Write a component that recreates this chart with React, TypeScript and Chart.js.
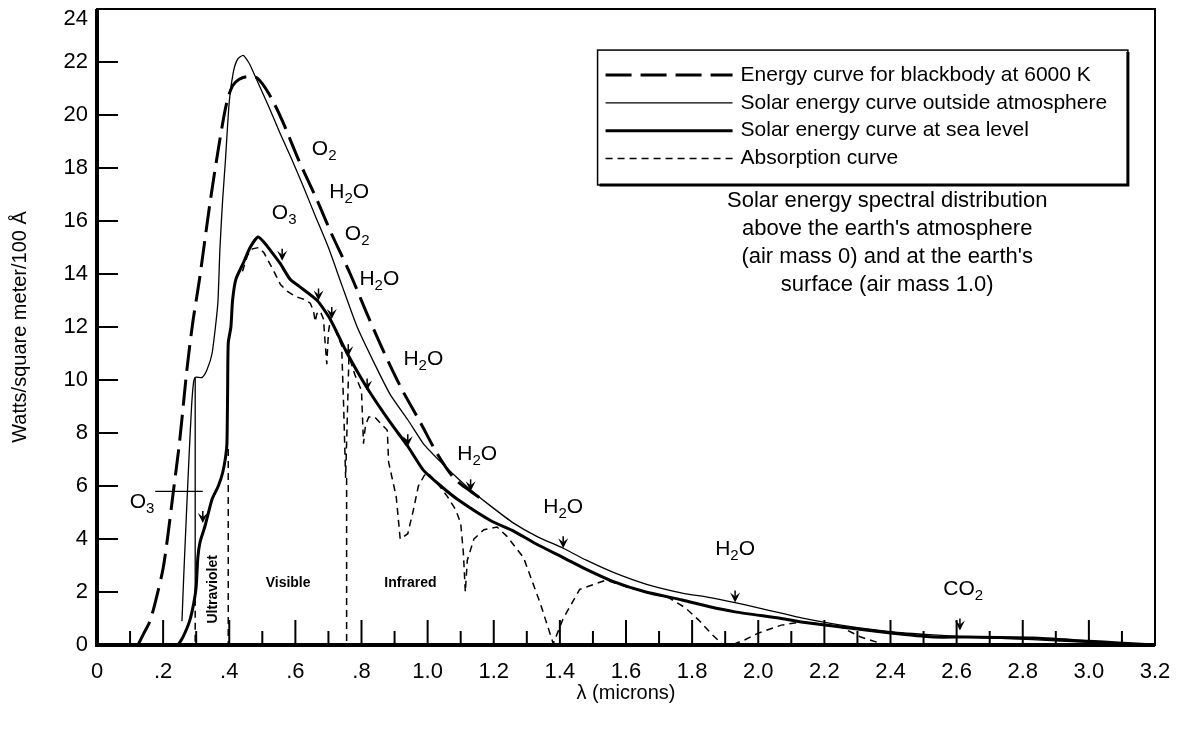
import React, { useEffect, useRef } from 'react';
import { Chart, registerables } from 'chart.js';

Chart.register(...registerables);

type Pt = [number, number];

const FONT = '"Liberation Sans", Arial, Helvetica, sans-serif';

// ---- axis ticks ----
const xTickValues = [0, 0.2, 0.4, 0.6, 0.8, 1.0, 1.2, 1.4, 1.6, 1.8, 2.0, 2.2, 2.4, 2.6, 2.8, 3.0, 3.2];
const xTickLabels = ['0', '.2', '.4', '.6', '.8', '1.0', '1.2', '1.4', '1.6', '1.8', '2.0', '2.2', '2.4', '2.6', '2.8', '3.0', '3.2'];
const yTickValues = [0, 2, 4, 6, 8, 10, 12, 14, 16, 18, 20, 22, 24];
const yTickLabels = ['0', '2', '4', '6', '8', '10', '12', '14', '16', '18', '20', '22', '24'];

// ---- series (wavelength in microns, Watts/m^2/100 Å) ----
// beyond ~1.2 µm the blackbody curve merges with the outside-atmosphere curve
const blackbody: Pt[] = [
  [0.124, 0], [0.14, 0.4], [0.16, 0.9], [0.18, 1.8], [0.2, 2.9], [0.215, 4.2], [0.23, 5.7], [0.25, 7.7],
  [0.272, 10.4], [0.29, 12.2], [0.31, 13.8], [0.342, 16.7], [0.372, 19.1], [0.393, 20.5], [0.41, 21.1],
  [0.43, 21.35], [0.455, 21.45], [0.484, 21.4], [0.52, 20.8], [0.56, 19.8], [0.61, 18.3], [0.665, 16.8],
  [0.71, 15.5], [0.766, 14.0], [0.82, 12.4], [0.866, 11.1], [0.92, 9.7], [0.978, 8.4], [1.03, 7.2],
  [1.08, 6.3], [1.13, 5.8], [1.17, 5.45],
];

const outsideAtmosphere: Pt[] = [
  [0.257, 0.9], [0.262, 2.5], [0.27, 4.8], [0.278, 7.0], [0.286, 9.0], [0.292, 9.9], [0.298, 10.1],
  [0.318, 10.1], [0.333, 10.4], [0.348, 11.0], [0.36, 12.2], [0.366, 13.0], [0.372, 15.0], [0.38, 16.8],
  [0.388, 18.2], [0.4, 20.5], [0.412, 21.6], [0.425, 22.1], [0.442, 22.25], [0.458, 22.0], [0.47, 21.7],
  [0.484, 21.3], [0.52, 20.3], [0.554, 19.3], [0.59, 18.3], [0.624, 17.3], [0.66, 16.2], [0.7, 15.0],
  [0.74, 13.6], [0.787, 12.0], [0.84, 10.6], [0.887, 9.45], [0.94, 8.5], [0.987, 7.6], [1.04, 6.9],
  [1.09, 6.3], [1.13, 5.85], [1.19, 5.25], [1.26, 4.6], [1.33, 4.1], [1.41, 3.65], [1.48, 3.2],
  [1.56, 2.75], [1.66, 2.3], [1.77, 1.96], [1.85, 1.8], [1.93, 1.6], [2.0, 1.4], [2.07, 1.2],
  [2.13, 1.02], [2.25, 0.75], [2.4, 0.5], [2.53, 0.38], [2.68, 0.28], [2.83, 0.2], [3.0, 0.1], [3.2, 0],
];

const seaLevel: Pt[] = [
  [0.245, 0], [0.26, 0.3], [0.28, 0.9], [0.293, 1.6], [0.3, 2.2], [0.305, 3.3], [0.312, 3.9], [0.327, 4.5],
  [0.348, 5.5], [0.367, 6.0], [0.38, 6.5], [0.389, 7.1], [0.393, 7.6], [0.395, 9.5], [0.397, 11.4],
  [0.405, 12.0], [0.41, 13.0], [0.42, 13.8], [0.442, 14.4], [0.463, 15.0], [0.487, 15.4], [0.505, 15.2],
  [0.524, 14.9], [0.554, 14.4], [0.584, 13.8], [0.61, 13.55], [0.666, 13.0], [0.705, 12.3], [0.757, 11.0],
  [0.817, 9.7], [0.887, 8.4], [0.94, 7.5], [0.987, 6.6], [1.04, 6.0], [1.09, 5.5], [1.19, 4.7],
  [1.26, 4.3], [1.33, 3.8], [1.41, 3.3], [1.48, 2.85], [1.56, 2.4], [1.66, 2.0], [1.77, 1.7],
  [1.85, 1.45], [1.93, 1.25], [2.07, 1.0], [2.13, 0.87], [2.25, 0.68], [2.4, 0.45], [2.53, 0.3],
  [2.63, 0.3], [2.83, 0.26], [3.0, 0.14], [3.09, 0.08], [3.2, 0],
];

const absorption: Pt[] = [
  [0.44, 14.1], [0.455, 14.7], [0.47, 14.95], [0.49, 15.0], [0.505, 14.8], [0.52, 14.45], [0.535, 14.1],
  [0.555, 13.6], [0.575, 13.35], [0.6, 13.15], [0.625, 13.05], [0.645, 12.9], [0.655, 12.6], [0.66, 12.2],
  [0.665, 12.5], [0.675, 12.6], [0.685, 12.3], [0.69, 11.4], [0.695, 10.6], [0.7, 11.8], [0.706, 12.3],
  [0.72, 11.9], [0.74, 11.3], [0.746, 9.0], [0.752, 6.3], [0.758, 9.0], [0.762, 10.9], [0.78, 10.2],
  [0.8, 9.6], [0.806, 7.6], [0.812, 8.3], [0.822, 8.6], [0.84, 8.6], [0.878, 8.1], [0.882, 6.9],
  [0.905, 5.6], [0.917, 4.0], [0.94, 4.2], [0.957, 5.1], [0.972, 6.0], [0.99, 6.4], [1.0, 6.5],
  [1.03, 6.1], [1.06, 5.6], [1.085, 5.1], [1.1, 4.6], [1.108, 3.5], [1.114, 2.0], [1.12, 3.2],
  [1.14, 4.0], [1.17, 4.35], [1.21, 4.45], [1.24, 4.1], [1.29, 3.3], [1.34, 1.6], [1.38, 0.05],
  [1.41, 1.0], [1.46, 2.1], [1.54, 2.45], [1.6, 2.2], [1.66, 2.0], [1.73, 1.78], [1.78, 1.4],
  [1.82, 0.94], [1.86, 0.4], [1.89, 0.05], [1.93, 0.05], [1.96, 0.2], [2.0, 0.45], [2.07, 0.75],
  [2.13, 0.87], [2.2, 0.78], [2.25, 0.68], [2.31, 0.3], [2.385, 0],
];

// boundary / marker lines
const ozoneCutoffSolid: Pt[] = [[0.297, 10.1], [0.297, 2.2]];
const ozoneCutoffDashed: Pt[] = [[0.297, 2.2], [0.297, 0]];
const uvVisibleBoundary: Pt[] = [[0.397, 7.4], [0.397, 0]];
const visibleIrBoundary: Pt[] = [[0.755, 6.3], [0.755, 0]];
const ozoneMarker: Pt[] = [[0.176, 5.8], [0.32, 5.8]];

// arrowheads (tip positions)
const arrowTips: Pt[] = [
  [0.32, 4.6], [0.56, 14.5], [0.67, 13.0], [0.71, 12.3], [0.76, 10.9], [0.817, 9.6], [0.94, 7.5],
  [1.13, 5.8], [1.41, 3.65], [1.93, 1.6], [2.61, 0.55],
];

// ---- texts ----
const legendLabels = [
  'Energy curve for blackbody at 6000 K',
  'Solar energy curve outside atmosphere',
  'Solar energy curve at sea level',
  'Absorption curve',
];
const gasLabels = ['O_2', 'H_2O', 'O_3', 'O_2', 'H_2O', 'H_2O', 'H_2O', 'H_2O', 'H_2O', 'CO_2', 'O_3'];
const gasLabelX = [0.687, 0.763, 0.566, 0.787, 0.854, 0.987, 1.15, 1.41, 1.93, 2.62, 0.136];
const gasLabelY = [18.7, 17.1, 16.3, 15.5, 13.8, 10.8, 7.2, 5.2, 3.6, 2.1, 5.4];
const noteLines = [
  'Solar energy spectral distribution',
  "above the earth's atmosphere",
  "(air mass 0) and at the earth's",
  'surface (air mass 1.0)',
];
const regionLabels = ['Ultraviolet', 'Visible', 'Infrared'];
const regionLabelX = [0.351, 0.578, 0.948];
const regionLabelY = [2.1, 2.34, 2.34];

const toXY = (pts: Pt[]) => pts.map(([x, y]) => ({ x, y }));

function drawChem(ctx: CanvasRenderingContext2D, text: string, cx: number, cy: number, size: number) {
  const parts: { s: string; sub: boolean }[] = [];
  for (let i = 0; i < text.length; i++) {
    if (text[i] === '_') {
      parts.push({ s: text[i + 1], sub: true });
      i++;
    } else parts.push({ s: text[i], sub: false });
  }
  const mainFont = `${size}px ${FONT}`;
  const subFont = `${Math.round(size * 0.72)}px ${FONT}`;
  let w = 0;
  for (const p of parts) {
    ctx.font = p.sub ? subFont : mainFont;
    w += ctx.measureText(p.s).width;
  }
  let x = cx - w / 2;
  ctx.textAlign = 'left';
  ctx.textBaseline = 'middle';
  for (const p of parts) {
    ctx.font = p.sub ? subFont : mainFont;
    ctx.fillText(p.s, x, p.sub ? cy + size * 0.32 : cy);
    x += ctx.measureText(p.s).width;
  }
}

const decorPlugin = {
  id: 'decor',
  afterDatasetsDraw(chart: any) {
    const { ctx, chartArea: a, scales } = chart;
    const xs = scales.x;
    const ys = scales.y;
    ctx.save();
    ctx.strokeStyle = '#000';
    ctx.fillStyle = '#000';

    // frame
    ctx.lineWidth = 2;
    ctx.strokeRect(a.left, a.top, a.right - a.left, a.bottom - a.top);
    ctx.lineWidth = 4;
    ctx.beginPath();
    ctx.moveTo(a.left, a.top);
    ctx.lineTo(a.left, a.bottom);
    ctx.lineTo(a.right, a.bottom);
    ctx.stroke();

    // inward x ticks
    ctx.lineWidth = 2;
    for (const t of xs.ticks) {
      const px = xs.getPixelForValue(t.value);
      const major = xTickValues.some((v) => Math.abs(v - t.value) < 1e-6);
      const len = major ? 25 : 14;
      ctx.beginPath();
      ctx.moveTo(px, a.bottom);
      ctx.lineTo(px, a.bottom - len);
      ctx.stroke();
    }
    // inward y ticks + labels (top label kept inside the canvas)
    ctx.font = `22px ${FONT}`;
    ctx.textAlign = 'right';
    ctx.textBaseline = 'middle';
    ys.ticks.forEach((t: any, i: number) => {
      const py = ys.getPixelForValue(t.value);
      ctx.beginPath();
      ctx.moveTo(a.left, py);
      ctx.lineTo(a.left + 21, py);
      ctx.stroke();
      const idx = yTickValues.indexOf(t.value);
      if (idx >= 0) ctx.fillText(yTickLabels[idx], a.left - 9, Math.max(py, 19));
    });

    // arrowheads
    for (const [vx, vy] of arrowTips) {
      const px = xs.getPixelForValue(vx);
      const py = ys.getPixelForValue(vy);
      ctx.beginPath();
      ctx.moveTo(px - 5, py - 10);
      ctx.lineTo(px, py);
      ctx.lineTo(px + 5, py - 10);
      ctx.lineTo(px, py - 6);
      ctx.closePath();
      ctx.fill();
      ctx.lineWidth = 1.5;
      ctx.beginPath();
      ctx.moveTo(px, py - 6);
      ctx.lineTo(px, py - 12);
      ctx.stroke();
    }

    // gas labels
    gasLabels.forEach((g, i) => {
      drawChem(ctx, g, xs.getPixelForValue(gasLabelX[i]), ys.getPixelForValue(gasLabelY[i]), 21);
    });

    // note
    ctx.font = `22px ${FONT}`;
    ctx.textAlign = 'center';
    ctx.textBaseline = 'middle';
    const noteX = xs.getPixelForValue(2.39);
    noteLines.forEach((l, i) => {
      ctx.fillText(l, noteX, ys.getPixelForValue(16.75) + i * 27.8);
    });

    // region labels
    ctx.font = `bold 14px ${FONT}`;
    regionLabels.forEach((l, i) => {
      const px = xs.getPixelForValue(regionLabelX[i]);
      const py = ys.getPixelForValue(regionLabelY[i]);
      if (i === 0) {
        ctx.save();
        ctx.translate(px, py);
        ctx.rotate(-Math.PI / 2);
        ctx.fillText(l, 0, 0);
        ctx.restore();
      } else {
        ctx.fillText(l, px, py);
      }
    });

    // legend box
    const bx0 = xs.getPixelForValue(1.514);
    const bx1 = xs.getPixelForValue(3.118);
    const by0 = ys.getPixelForValue(22.45);
    const by1 = ys.getPixelForValue(17.36);
    ctx.fillStyle = '#fff';
    ctx.fillRect(bx0, by0, bx1 - bx0, by1 - by0);
    ctx.fillStyle = '#000';
    ctx.lineWidth = 1.5;
    ctx.setLineDash([]);
    ctx.strokeRect(bx0, by0, bx1 - bx0, by1 - by0);
    ctx.lineWidth = 3;
    ctx.beginPath();
    ctx.moveTo(bx1, by0 + 2);
    ctx.lineTo(bx1, by1);
    ctx.lineTo(bx0 + 2, by1);
    ctx.stroke();
    const ds = chart.data.datasets;
    ctx.font = `21px ${FONT}`;
    ctx.textAlign = 'left';
    legendLabels.forEach((l, i) => {
      const rowY = by0 + 25 + i * 27.8;
      const d = ds[i];
      ctx.save();
      ctx.lineWidth = d.borderWidth;
      ctx.setLineDash(d.borderDash || []);
      ctx.beginPath();
      ctx.moveTo(bx0 + 8, rowY);
      ctx.lineTo(bx0 + 135, rowY);
      ctx.stroke();
      ctx.restore();
      ctx.fillText(l, bx0 + 143, rowY);
    });
    ctx.restore();
  },
};

export default function App() {
  const ref = useRef<HTMLCanvasElement | null>(null);
  useEffect(() => {
    document.body.style.margin = '0';
    const canvas = ref.current;
    if (!canvas) return;
    const line = (label: string, pts: Pt[], width: number, dash: number[], tension = 0.25) => ({
      label,
      data: toXY(pts),
      borderColor: '#000',
      borderWidth: width,
      borderDash: dash,
      pointRadius: 0,
      fill: false,
      tension,
      borderCapStyle: 'butt' as const,
    });
    const chart = new Chart(canvas, {
      type: 'line',
      data: {
        datasets: [
          line(legendLabels[0], blackbody, 3, [26, 9], 0.3),
          line(legendLabels[1], outsideAtmosphere, 1.3, [], 0.2),
          line(legendLabels[2], seaLevel, 3, [], 0.2),
          line(legendLabels[3], absorption, 1.5, [7, 5], 0),
          line('', ozoneCutoffSolid, 1.3, [], 0),
          line('', ozoneCutoffDashed, 1.5, [7, 5], 0),
          line('', uvVisibleBoundary, 1.5, [7, 5], 0),
          line('', visibleIrBoundary, 1.5, [7, 5], 0),
          line('', ozoneMarker, 1.2, [], 0),
        ],
      },
      options: {
        responsive: false,
        animation: false,
        layout: { padding: { top: 9, right: 25, left: 0, bottom: 0 } },
        plugins: { legend: { display: false }, tooltip: { enabled: false } },
        elements: { point: { radius: 0 } },
        scales: {
          x: {
            type: 'linear',
            min: 0,
            max: 3.2,
            grid: { display: false },
            border: { display: false },
            ticks: {
              stepSize: 0.1,
              autoSkip: false,
              maxRotation: 0,
              padding: 6,
              color: '#000',
              font: { family: FONT, size: 22 },
              callback: (v: any) => {
                const i = xTickValues.findIndex((t) => Math.abs(t - Number(v)) < 1e-6);
                return i >= 0 ? xTickLabels[i] : '';
              },
            },
            title: {
              display: true,
              text: 'λ (microns)',
              color: '#000',
              font: { family: FONT, size: 20 },
              padding: { top: 0, bottom: 24 },
            },
            afterFit: (s: any) => {
              s.height = 84;
              s.paddingLeft = 0;
              s.paddingRight = 0;
            },
          },
          y: {
            type: 'linear',
            min: 0,
            max: 24,
            grid: { display: false },
            border: { display: false },
            afterBuildTicks: (s: any) => {
              s.ticks = yTickValues.map((v) => ({ value: v }));
            },
            ticks: {
              display: false,
            },
            title: {
              display: true,
              text: 'Watts/square meter/100 Å',
              color: '#000',
              font: { family: FONT, size: 20 },
              padding: { top: 8, bottom: 0 },
            },
            afterFit: (s: any) => {
              s.width = 97;
              s.paddingTop = 0;
              s.paddingBottom = 0;
            },
          },
        },
      },
      plugins: [decorPlugin],
    });
    return () => chart.destroy();
  }, []);
  return (
    <div style={{ width: 1180, height: 729, background: '#fff' }}>
      <canvas ref={ref} width={1180} height={729} style={{ display: 'block' }} />
    </div>
  );
}
